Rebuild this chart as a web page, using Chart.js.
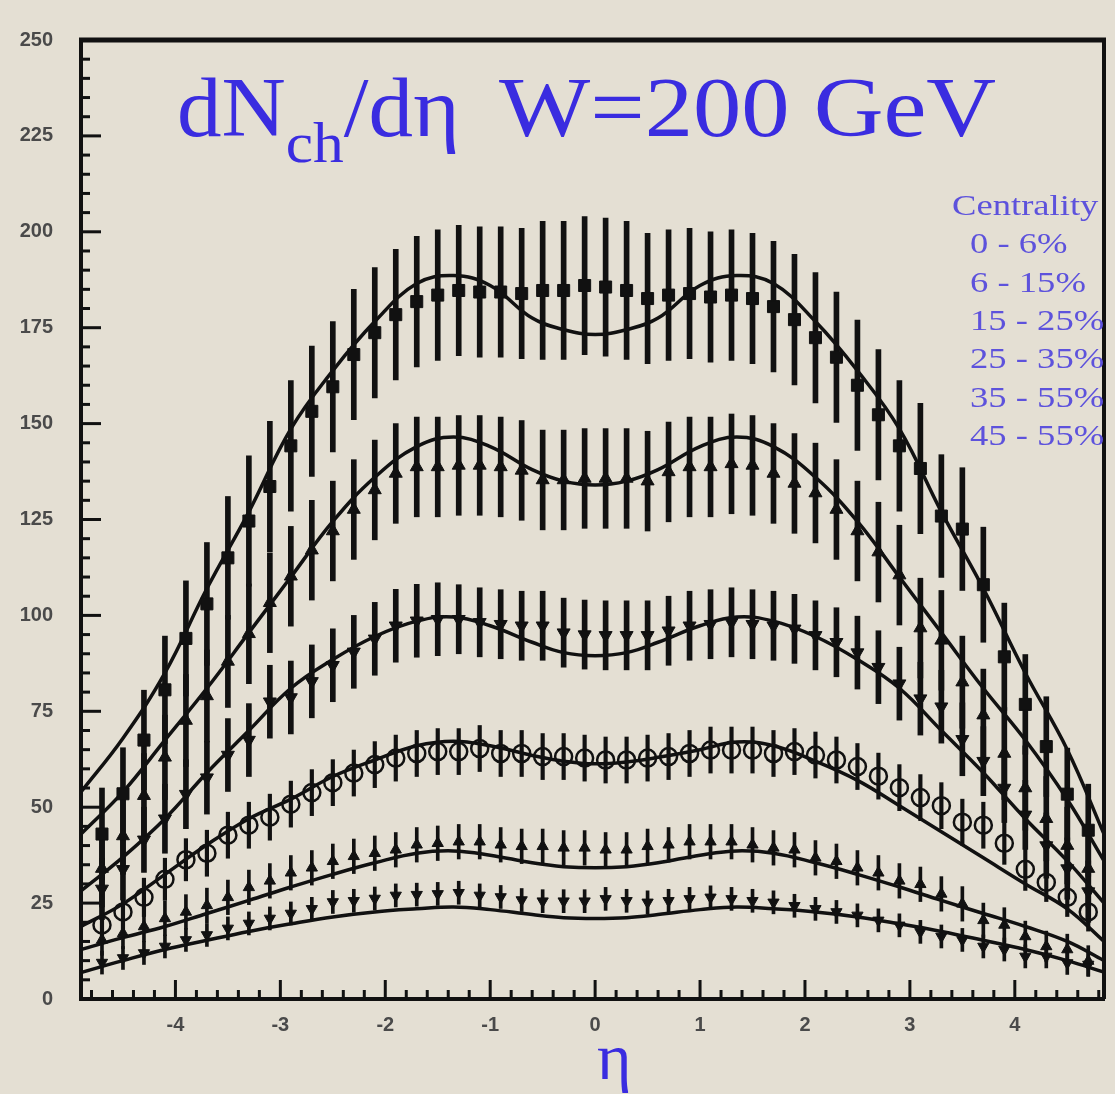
<!DOCTYPE html>
<html>
<head>
<meta charset="utf-8">
<script src="https://cdn.jsdelivr.net/npm/chart.js@4.4.1/dist/chart.umd.min.js"></script>
<style>
html, body { margin: 0; padding: 0; background: #e4dfd3; }
#wrap { position: relative; width: 1115px; height: 1094px; overflow: hidden; background: #e4dfd3; }
#chart { position: absolute; left: 0; top: 0; }
.txt { position: absolute; font-family: "Liberation Serif", "Times New Roman", serif; white-space: nowrap; transform-origin: 0 0; }
#title1, #title2 { top: 66px; font-size: 84px; line-height: 84px; color: #3a2ce0; }
#title1 { left: 177px; transform: scaleX(1.06); }
#title2 { left: 499px; transform: scaleX(1.15); }
#title1 sub { font-size: 58px; vertical-align: -26px; line-height: 0; }
.leg { font-size: 30px; line-height: 38px; color: #5d52dc; transform: scaleX(1.22); }
#etaLabel { left: 597px; top: 1024px; font-size: 66px; line-height: 66px; color: #3a2ce0; }
</style>
</head>
<body>
<div id="wrap">
  <canvas id="chart" width="1115" height="1094"></canvas>
  <div class="txt" id="title1">dN<sub>ch</sub>/dη</div>
  <div class="txt" id="title2">W=200 GeV</div>
  <div class="txt" id="etaLabel">η</div>
</div>
<script>
// pseudo-rapidity bins of the measured points
const etaPoints = [-4.7, -4.5, -4.3, -4.1, -3.9, -3.7, -3.5, -3.3, -3.1, -2.9, -2.7, -2.5, -2.3, -2.1, -1.9, -1.7,
  -1.5, -1.3, -1.1, -0.9, -0.7, -0.5, -0.3, -0.1, 0.1, 0.3, 0.5, 0.7, 0.9, 1.1, 1.3, 1.5,
  1.7, 1.9, 2.1, 2.3, 2.5, 2.7, 2.9, 3.1, 3.3, 3.5, 3.7, 3.9, 4.1, 4.3, 4.5, 4.7];

// measured dN/deta per centrality class
const cent0_6 = [43, 53.5, 67.5, 80.6, 94, 103, 115, 124.6, 133.6, 144.2, 153.2, 159.6, 168, 173.7, 178.4, 181.8,
  183.5, 184.7, 184.3, 184.3, 183.9, 184.7, 184.7, 186, 185.6, 184.7, 182.6, 183.5, 183.9, 183, 183.5, 182.6,
  180.5, 177.1, 172.4, 167.3, 160, 152.3, 144.2, 138.3, 125.9, 122.5, 108, 89.2, 76.8, 65.8, 53.4, 44];
const cent6_15 = [34, 42.5, 53, 63, 72.6, 79, 88, 95.2, 103.3, 110.2, 117, 122, 127.6, 132.7, 137, 138.7,
  138.7, 139.1, 139.1, 138.7, 137.8, 135.3, 135.3, 135.7, 135.7, 135.7, 135, 137.4, 138.7, 138.7, 139.5, 139.1,
  137, 134.4, 131.9, 127.6, 122, 116.5, 110.5, 96.7, 93.5, 82.6, 74, 64, 55, 47, 40, 34];
const cent15_25 = [28.7, 33.8, 41.5, 47, 53.4, 57.7, 63.6, 67.5, 77.5, 78.6, 82.8, 87, 90.5, 93.9, 97.3, 98.6,
  99, 99, 98.2, 97.7, 97.3, 97.3, 95.5, 95, 94.8, 94.8, 94.8, 96, 97.3, 97.7, 98.2, 97.7,
  97.3, 96.5, 94.8, 93, 90.3, 86.5, 82.2, 78.3, 76.2, 67.7, 62, 55, 48, 40, 34, 28];
const cent25_35 = [19.3, 22.7, 26.5, 31.2, 36.3, 38, 42.7, 45.3, 47.4, 50.8, 53.8, 56.4, 58.9, 61.1, 62.8, 64,
  64.5, 64.5, 65.3, 64, 64, 63.2, 63.2, 62.8, 62.3, 62.3, 62.8, 63.2, 64, 64.9, 64.9, 64.9,
  64, 64.5, 63.6, 62.3, 60.6, 58.1, 55.1, 52.5, 50.4, 46.1, 45.3, 40.6, 33.8, 30.4, 26.5, 22.7];
const cent35_45 = [15.4, 17.1, 18.9, 21, 22.7, 24.4, 26.5, 29.1, 30.8, 32.9, 34.2, 35.9, 37.2, 38, 38.9, 40.2,
  40.6, 41, 41, 40.2, 39.8, 39.8, 39.4, 39.4, 38.9, 38.9, 39.8, 40.2, 41, 41, 41, 40.2,
  39.4, 38.9, 36.8, 35.9, 34.2, 32.9, 30.8, 29.9, 27.4, 24.8, 20.5, 19.3, 16.3, 13.7, 12.9, 9.9];
const cent45_55 = [9.5, 10.7, 12, 13.7, 15.4, 16.7, 18.4, 19.7, 21, 22.3, 23.5, 25.3, 25.6, 26.2, 27, 27.2,
  27.4, 27.7, 27, 26.6, 25.8, 25.5, 25.5, 25.5, 26.1, 25.6, 25.2, 25.6, 26.1, 26.5, 26.1, 25.6,
  25.2, 24.3, 23.5, 22.7, 21.8, 20.5, 19.2, 17.5, 16.3, 15.4, 13.7, 12.9, 11.1, 11.1, 9.4, 9];

// half lengths of the error bars
const err0_6 = [12, 12, 13, 14, 15, 16, 16, 17, 17, 17, 17, 17, 17, 17, 17, 17, 17, 17, 17, 17, 17, 18, 18, 18,
  18, 18, 17, 17, 17, 17, 17, 17, 17, 17, 17, 17, 17, 17, 17, 17, 16, 16, 15, 14, 13, 13, 12, 12];
const err6_15 = [10, 10, 11, 11, 12, 12, 12, 13, 13, 13, 13, 13, 13, 13, 13, 13, 13, 13, 13, 13, 13, 13, 13, 13,
  13, 13, 13, 13, 13, 13, 13, 13, 13, 13, 13, 13, 13, 13, 13, 13, 13, 12, 12, 12, 11, 11, 10, 10];
const err15_25 = [8, 8, 8.5, 9, 9, 9.5, 9.5, 9.5, 9.5, 9.5, 9.5, 9.5, 9.5, 9.5, 9.5, 9.5, 9.5, 9, 9, 9, 9, 9, 9, 9,
  9, 9, 9, 9, 9, 9, 9, 9, 9, 9, 9, 9, 9.5, 9.5, 9.5, 9.5, 9.5, 9.5, 9, 9, 9, 8.5, 8, 8];
const err25_35 = [5, 5, 5, 5.5, 5.5, 6, 6, 6, 6, 6, 6, 6, 6, 6, 6, 6, 6, 6, 6, 6, 6, 6, 6, 6,
  6, 6, 6, 6, 6, 6, 6, 6, 6, 6, 6, 6, 6, 6, 6, 6, 6, 6, 6, 5.5, 5.5, 5, 5, 5];
const err35_45 = [4, 4, 4, 4.5, 4.5, 4.5, 4.5, 4.5, 4.5, 4.5, 4.5, 4.5, 4.5, 4.5, 4.5, 4.5, 4.5, 4.5, 4.5, 4.5, 4.5, 4.5, 4.5, 4.5,
  4.5, 4.5, 4.5, 4.5, 4.5, 4.5, 4.5, 4.5, 4.5, 4.5, 4.5, 4.5, 4.5, 4.5, 4.5, 4.5, 4.5, 4.5, 4.5, 4.5, 4, 4, 4, 4];
const err45_55 = [3, 3, 3, 3, 3, 3, 3, 3, 3, 3, 3, 3, 3, 3, 3, 3, 3, 3, 3, 3, 3, 3, 3, 3,
  3, 3, 3, 3, 3, 3, 3, 3, 3, 3, 3, 3, 3, 3, 3, 3, 3, 3, 3, 3, 3, 3, 3, 3];

// model curves
const fitEta = [-4.9, -4.5, -4.1, -3.7, -3.3, -2.9, -2.5, -2.1, -1.7, -1.35, -1.0, -0.6, -0.3, 0,
  0.3, 0.6, 1.0, 1.35, 1.7, 2.1, 2.5, 2.9, 3.3, 3.7, 4.1, 4.5, 4.85];
const fit0_6 = [54, 68, 85, 107, 127, 148.6, 163.8, 176.6, 186.5, 188.6, 186, 177.5, 174.5, 173.2,
  174.5, 177.5, 186, 188.6, 186.5, 176.6, 163.8, 148.6, 127, 107, 85, 65, 43];
const fit6_15 = [43, 54, 67.5, 81, 95.5, 110, 124.5, 136, 144, 146.5, 144, 138, 135, 134,
  135, 138, 144, 146.5, 144, 136, 124.5, 110, 95.5, 81, 67.5, 52, 36];
const fit15_25 = [28.2, 37, 47, 59, 70, 81, 88.5, 94.5, 98.5, 99.6, 97.3, 93, 90.3, 89.5,
  90.3, 93, 97.3, 99.6, 98.5, 94.5, 88.5, 81, 70, 59, 47, 36, 25];
const fit25_35 = [18.9, 24.8, 32.5, 40.2, 47, 52.1, 58, 62.3, 66, 67.2, 66, 63.5, 62, 61.3,
  61.8, 63, 65, 67, 66, 62, 57, 50.4, 43.6, 36.8, 30, 23.5, 15];
const fit35_45 = [12.9, 16, 18.9, 22.3, 25.7, 29.2, 32.5, 35.5, 38, 38.6, 37.5, 35.5, 34.5, 34.2,
  34.5, 35.5, 37.5, 38.6, 38, 35.5, 32.5, 29.2, 25.7, 22.3, 18.9, 15, 10];
const fit45_55 = [6.9, 10, 12.9, 15.3, 17.6, 19.6, 21.4, 22.7, 23.5, 24, 23.3, 22, 21.2, 21,
  21.2, 22, 23.3, 24, 23.5, 22.7, 21.4, 19.6, 17.6, 15.3, 12.9, 10, 7];

const legendTitle = 'Centrality';
const legendLabels = ['0 - 6%', '6 - 15%', '15 - 25%', '25 - 35%', '35 - 55%', '45 - 55%'];

const series = [
  { vals: cent0_6, errs: err0_6, fit: fit0_6, style: 'rect', radius: 8.5, rot: 0, fill: '#111', bar: 5 },
  { vals: cent6_15, errs: err6_15, fit: fit6_15, style: 'triangle', radius: 7.5, rot: 0, fill: '#111', bar: 5 },
  { vals: cent15_25, errs: err15_25, fit: fit15_25, style: 'triangle', radius: 7.5, rot: 180, fill: '#111', bar: 5 },
  { vals: cent25_35, errs: err25_35, fit: fit25_35, style: 'circle', radius: 8.5, rot: 0, fill: 'rgba(0,0,0,0)', bar: 3.5 },
  { vals: cent35_45, errs: err35_45, fit: fit35_45, style: 'triangle', radius: 6.5, rot: 0, fill: '#111', bar: 3 },
  { vals: cent45_55, errs: err45_55, fit: fit45_55, style: 'triangle', radius: 6.5, rot: 180, fill: '#111', bar: 3 }
];

// legend text lines
const wrap = document.getElementById('wrap');
[legendTitle, ...legendLabels].forEach((t, i) => {
  const d = document.createElement('div');
  d.className = 'txt leg';
  d.textContent = t;
  d.style.left = (i === 0 ? 952 : 970) + 'px';
  d.style.top = (186 + i * 38.3) + 'px';
  wrap.appendChild(d);
});

const datasets = [];
series.forEach(s => {
  datasets.push({
    type: 'bar',
    data: etaPoints.map((x, i) => ({ x, y: [s.vals[i] - s.errs[i], s.vals[i] + s.errs[i]] })),
    backgroundColor: '#111',
    borderWidth: 0,
    barThickness: s.bar,
    grouped: false,
    order: 3
  });
  datasets.push({
    type: 'line',
    data: fitEta.map((x, i) => ({ x, y: s.fit[i] })),
    borderColor: '#111',
    borderWidth: 3.5,
    pointRadius: 0,
    tension: 0.4,
    fill: false,
    order: 2
  });
  datasets.push({
    type: 'scatter',
    data: etaPoints.map((x, i) => ({ x, y: s.vals[i] })),
    pointStyle: s.style,
    pointRadius: s.radius,
    pointRotation: s.rot,
    backgroundColor: s.fill,
    borderColor: '#111',
    borderWidth: s.style === 'circle' ? 2.5 : 1,
    order: 1
  });
});

// ticks pointing into the frame, plus the top and right frame lines
const innerTicks = {
  id: 'innerTicks',
  afterDraw(chart) {
    const { ctx, chartArea: a, scales: { x, y } } = chart;
    const line = (x1, y1, x2, y2) => { ctx.beginPath(); ctx.moveTo(x1, y1); ctx.lineTo(x2, y2); ctx.stroke(); };
    ctx.save();
    ctx.strokeStyle = '#111';
    ctx.lineWidth = 3;
    for (let i = -25; i <= 25; i++) {
      const v = i / 5;
      if (v < x.min || v > x.max) continue;
      const px = x.getPixelForValue(v);
      line(px, a.bottom, px, a.bottom - (i % 5 === 0 ? 19 : 9));
    }
    for (let v = 0; v <= 250; v += 5) {
      const py = y.getPixelForValue(v);
      line(a.left, py, a.left + (v % 25 === 0 ? 20 : 9), py);
    }
    ctx.lineWidth = 5;
    line(a.left - 2, a.top, a.right + 2, a.top);
    ctx.lineWidth = 4;
    line(a.right, a.top, a.right, a.bottom);
    ctx.restore();
  }
};

const tickFont = { family: 'Liberation Sans', weight: 'bold', size: 20 };

new Chart(document.getElementById('chart'), {
  type: 'scatter',
  data: { datasets },
  options: {
    responsive: false,
    animation: false,
    devicePixelRatio: 1,
    events: [],
    layout: { padding: { top: 19, right: 3, left: 0, bottom: 0 } },
    plugins: { legend: { display: false }, tooltip: { enabled: false } },
    scales: {
      x: {
        type: 'linear',
        min: -4.9,
        max: 4.85,
        offset: false,
        afterFit(s) { s.height = 95; },
        grid: { display: false, drawTicks: false },
        border: { display: true, color: '#111', width: 4 },
        ticks: { stepSize: 1, includeBounds: false, autoSkip: false, maxRotation: 0, padding: 14, color: '#4a4a4a', font: tickFont }
      },
      y: {
        type: 'linear',
        min: 0,
        max: 250,
        afterFit(s) { s.width = 81; },
        grid: { display: false, drawTicks: false },
        border: { display: true, color: '#111', width: 4 },
        ticks: { stepSize: 25, autoSkip: false, padding: 28, color: '#4a4a4a', font: tickFont }
      }
    }
  },
  plugins: [innerTicks]
});
</script>
</body>
</html>
